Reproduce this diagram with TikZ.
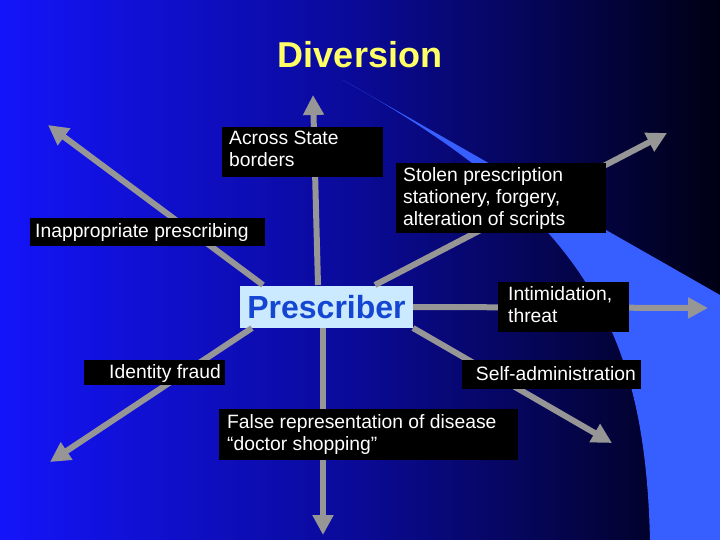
\documentclass[tikz,border=0pt]{standalone}
\usepackage{fontspec}
\setmainfont{Liberation Sans}
\usetikzlibrary{arrows.meta}
\begin{document}
\begin{tikzpicture}[x=1pt,y=-1pt,
  box/.style={fill=black,anchor=north west,inner sep=0pt},
  txt/.style={text=white,font=\fontsize{19.3}{22}\selectfont,align=left,anchor=north west,inner sep=0pt},
  arr/.style={draw={rgb,255:red,150;green,150;blue,150},line width=6pt,-{Triangle[length=20pt,width=20pt]}}]
\definecolor{bgL}{RGB}{20,20,250}
\definecolor{bgR}{RGB}{0,0,20}
\definecolor{band}{RGB}{55,95,255}
\useasboundingbox (0,0) rectangle (720,540);
\shade[left color=bgL,right color=bgR,middle color={rgb,255:red,10;green,10;blue,150}] (0,0) rectangle (720,540);
\fill[band] (343,80) -- (720,295) -- (720,540) -- (650,540) .. controls (645,330) and (585,215) .. (343,80) -- cycle;
\node[font=\fontsize{36}{40}\selectfont\bfseries,text={rgb,255:red,255;green,255;blue,102}] (title) at (360,55) {Diversion};
\node[fill={rgb,255:red,204;green,234;blue,255},text={rgb,255:red,20;green,70;blue,210},font=\fontsize{32}{34}\selectfont\bfseries,minimum width=173pt,minimum height=42pt,inner sep=0pt] (p) at (326.5,307) {Prescriber};
\coordinate (eU) at (313,95);
\coordinate (eUL) at (48,125);
\coordinate (eUR) at (667,133);
\coordinate (eR) at (708,308);
\coordinate (eLR) at (612,443);
\coordinate (eD) at (323,535);
\coordinate (eLL) at (50,462);
\draw[arr] (318,285) -- (eU);
\draw[arr] (263,285) -- (eUL);
\draw[arr] (375,285) -- (eUR);
\draw[arr] (p.east) -- (eR);
\draw[arr] (413,328) -- (eLR);
\draw[arr] (323,328) -- (eD);
\draw[arr] (252,328) -- (eLL);
\node[box,minimum width=161pt,minimum height=50pt] (a) at (222,127) {};
\node[txt] (at) at (229,131) {Across State\\borders};
\node[box,minimum width=235pt,minimum height=28pt] (b) at (30,218) {};
\node[txt] (bt) at (35,223) {Inappropriate prescribing};
\node[box,minimum width=210pt,minimum height=70pt] (c) at (396,163) {};
\node[txt] (ct) at (403,167) {Stolen prescription\\stationery, forgery,\\alteration of scripts};
\node[box,minimum width=131pt,minimum height=50pt] (d) at (498,282) {};
\node[txt] (dt) at (508,286) {Intimidation,\\threat};
\node[box,minimum width=141pt,minimum height=25pt] (e) at (84,360) {};
\node[txt,anchor=north east] (et) at (221,364) {Identity fraud};
\node[box,minimum width=179pt,minimum height=29pt] (f) at (462,360) {};
\node[txt,anchor=north east] (ft) at (636,366) {Self-administration};
\node[box,minimum width=299pt,minimum height=51pt] (g) at (219,409) {};
\node[txt] (gt) at (227,414) {False representation of disease\\``doctor shopping''};
\end{tikzpicture}
\end{document}
